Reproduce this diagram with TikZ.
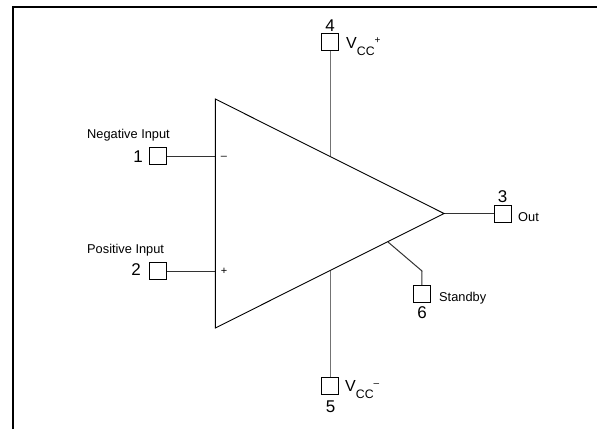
\documentclass[tikz,border=0pt]{standalone}
\usepackage{fontspec}
\setmainfont{Liberation Sans}
\tikzset{
  pin/.style={draw=black,line width=0.9pt,fill=white,minimum size=17pt,inner sep=0pt,rectangle},
  wire/.style={draw=black!80,line width=1pt},
  thickwire/.style={draw=black!55,line width=1.5pt},
  body/.style={draw=black,line width=0.9pt,line join=miter},
  frameline/.style={draw=black,line width=2.4pt},
  pinnum/.style={inner sep=0pt,font=\fontsize{17}{17}\selectfont},
  lab/.style={inner sep=0pt,anchor=west,font=\fontsize{12.8}{13}\selectfont},
  sign/.style={inner sep=0pt,font=\fontsize{11}{11}\selectfont},
  vcc/.style={inner sep=0pt,anchor=base west}
}
\newcommand{\vcclabel}[1]{\fontsize{16}{16}\selectfont V\raisebox{-7.8pt}{\fontsize{12.3}{12}\selectfont CC}\raisebox{5pt}{\fontsize{10}{10}\selectfont #1}}
\begin{document}
\begin{tikzpicture}[x=1pt,y=-1pt]
\useasboundingbox (0,0) rectangle (597,429);
\fill[white] (0,0) rectangle (597,429);
% frame
\coordinate (fa) at (13.2,429);
\coordinate (fb) at (13.2,6.7);
\coordinate (fc) at (597,6.7);
\draw[frameline,line cap=butt] (fa) -- (fb) -- (fc);
% amplifier body
\coordinate (tl) at (215.3,99);
\coordinate (bl) at (215.3,328);
\coordinate (apex) at (444,213.5);
\coordinate (in1) at (215.3,156);
\coordinate (in2) at (215.3,271);
\coordinate (up) at (330,156);
\coordinate (dn) at (330,271);
\coordinate (st) at (388,242);
\coordinate (stk) at (422,271);
% pins
\node[pin] (p1) at (158,156) {};
\node[pin] (p2) at (158,271) {};
\node[pin] (p3) at (502.5,213.5) {};
\node[pin] (p4) at (330.3,42) {};
\node[pin] (p5) at (330.3,386) {};
\node[pin] (p6) at (421.8,294) {};
% connectors
\draw[wire] (p1.east) -- (in1);
\draw[wire] (p2.east) -- (in2);
\draw[wire] (apex) -- (p3.west);
\draw[thickwire] (p4.south) -- (p4.south |- up);
\draw[thickwire] (p5.north) -- (p5.north |- dn);
\draw[wire] (st) -- (stk) -- (p6.north);
\draw[body] (tl) -- (apex) -- (bl) -- cycle;
% texts
\node[lab] (tneg) at (87,135) {Negative Input};
\node[lab] (tpos) at (87,250.5) {Positive Input};
\node[pinnum] (n1) at (138,157) {1};
\node[pinnum] (n2) at (136,270) {2};
\node[pinnum] (n3) at (502.5,197) {3};
\node[pinnum] (n4) at (330,25.5) {4};
\node[pinnum] (n5) at (330.5,407) {5};
\node[pinnum] (n6) at (422,313) {6};
\node[sign] (minus) at (224,157.5) {–};
\node[sign] (plus) at (224,271.5) {+};
\node[lab] (tout) at (518,217.5) {Out};
\node[lab] (tstb) at (439,298.5) {Standby};
\node[vcc] (vp) at (346,48) {\vcclabel{+}};
\node[vcc] (vm) at (345,391) {\vcclabel{–}};
\end{tikzpicture}
\end{document}
